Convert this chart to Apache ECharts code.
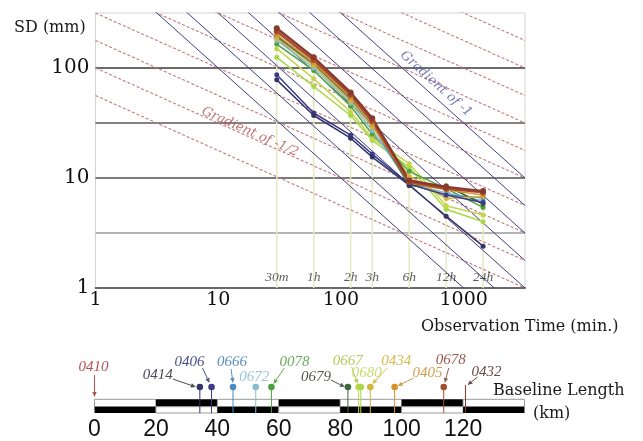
<!DOCTYPE html>
<html>
<head>
<meta charset="utf-8">
<script src="https://cdn.jsdelivr.net/npm/echarts@6.0.0/dist/echarts.min.js"></script>
<style>
html,body{margin:0;padding:0;background:#ffffff;}
#chart{width:643px;height:441px;}
</style>
</head>
<body>
<div id="chart"></div>
<script>
// ---------------- data ----------------
const times = [30, 60, 120, 180, 360, 720, 1440];
const timeLabels = ['30m', '1h', '2h', '3h', '6h', '12h', '24h'];
const xTickLabels = [1, 10, 100, 1000];
const yTickLabels = [1, 10, 100];
const refLevels = [3.162, 10, 31.62, 100];
const gradMinus1 = [1000, 1778, 3162, 5623, 10000, 17783, 31623];
const gradMinusHalf = [56.2, 100, 178, 316, 562, 1000, 1778, 3162, 5623, 10000];

const sd0414 = [78, 37, 23, 15.5, 8.6, 4.5, 2.4];
const sd0406 = [87, 39, 24.5, 16.5, 8.8, 7.0, 6.0];
const sd0666 = [190, 108, 52, 30, 8.8, 7.0, 6.6];
const sd0672 = [178, 100, 48, 27, 9.0, 7.3, 6.2];
const sd0078 = [165, 95, 45, 25, 11.5, 8.0, 5.4];
const sd0679 = [195, 110, 53, 32, 8.5, 8.5, 5.8];
const sd0667 = [150, 80, 40, 23, 13.5, 5.6, 4.6];
const sd0680 = [125, 68, 37, 22, 12.5, 5.2, 4.0];
const sd0434 = [185, 105, 50, 29, 10.5, 6.5, 6.8];
const sd0405 = [200, 112, 54, 31, 9.0, 7.8, 7.0];
const sd0678 = [215, 118, 57, 33, 9.2, 8.0, 7.4];
const sd0432 = [230, 125, 60, 35, 9.5, 8.3, 7.6];

const stations = ['0410','0414','0406','0666','0672','0078','0679','0667','0680','0434','0405','0678','0432'];
const baselineKm = [0, 34.3, 38.1, 45.1, 52.5, 57.6, 82.5, 86.0, 86.7, 89.8, 97.7, 113.7, 120.8];
const kmTicks = [0, 20, 40, 60, 80, 100, 120];
const kmSegments = [0, 20, 40, 60, 80, 100, 120];
const segLen = 20;

// ---------------- styles / layout ----------------
const stationColor = {
  '0410':'#b84a48','0414':'#33336a','0406':'#3c3c86','0666':'#4a8cc0','0672':'#86bccc',
  '0078':'#4ea040','0679':'#3a6a3a','0667':'#c4d44c','0680':'#a8d848','0434':'#d4b440',
  '0405':'#d8922c','0678':'#a84a30','0432':'#8a3a2c'
};
const labelColor = {
  '0410':'#b85050','0414':'#4a4a58','0406':'#4a5088','0666':'#5a8cc4','0672':'#9cc4d4',
  '0078':'#6aac58','0679':'#505c50','0667':'#b8c85c','0680':'#c4dc70','0434':'#d4bc50',
  '0405':'#d0a050','0678':'#9a5a50','0432':'#6a4a4a'
};
const seriesDefs = [
  ['0680', sd0680], ['0667', sd0667], ['0078', sd0078], ['0672', sd0672], ['0666', sd0666],
  ['0679', sd0679], ['0434', sd0434], ['0405', sd0405], ['0406', sd0406], ['0414', sd0414],
  ['0678', sd0678], ['0432', sd0432]
];
// label offsets relative to marker [dx, dy]; arrows [x1,y1,x2,y2] relative to marker
const labelOff = [[-1,-20],[-42,-12],[-22,-25],[-1,-25],[-1.5,-10],[23,-25],[-32,-10],[-11,-26],[6,-14],[26,-26],[33,-14],[7,-27],[21,-15]];
const arrowOff = [[0,-12,0,10],[-27,-8,-4,0],[-9,-19,-2,-4],[-2,-18,0,-4],null,[13,-19,2,-3],[-17,-7,-3,0],[-7,-20,-1,-3],null,[17,-19,2,-3],[19,-9,3,-1],[5,-19,1,-4],[12,-10,2,-2]];
const noMarker = {'0410':true, '0432':true};
const refStyle = [
  {color:'#b4b4b4', width:2}, {color:'#7a7a7a', width:2},
  {color:'#5a5a5a', width:1.3}, {color:'#3a3a3a', width:1.5}
];
const X_MAX = Math.pow(10, 3.5), Y_MAX = Math.pow(10, 2.5);
const MARK_V = 26, BAR_MID = 6.3, BAR_TOP = 13.7;

function isTick(v, list){ return list.some(t => Math.abs(Math.log10(v) - Math.log10(t)) < 1e-6); }

const series = [];
// horizontal reference lines
refLevels.forEach((v, i) => {
  series.push({type:'line', xAxisIndex:0, yAxisIndex:0, data:[[1, v],[X_MAX, v]], symbol:'none', silent:true,
    lineStyle:{color:refStyle[i].color, width:refStyle[i].width}, z:1});
});
// gradient -1/2 (red dashed)
gradMinusHalf.forEach(C => {
  series.push({type:'line', xAxisIndex:0, yAxisIndex:0, data:[[1, C],[X_MAX, C/Math.sqrt(X_MAX)]], symbol:'none', silent:true, clip:true,
    lineStyle:{color:'#c47878', width:1.1, type:[3,2]}, z:2});
});
// gradient -1 (blue)
gradMinus1.forEach(C => {
  series.push({type:'line', xAxisIndex:0, yAxisIndex:0, data:[[1, C],[X_MAX, C/X_MAX]], symbol:'none', silent:true, clip:true,
    lineStyle:{color:'#3e3e84', width:1}, z:2});
});
// vertical time lines
times.forEach((t, i) => {
  const mx = Math.max(...seriesDefs.map(d => d[1][i]));
  series.push({type:'line', xAxisIndex:0, yAxisIndex:0, data:[[t, 1],[t, mx]], symbol:'none', silent:true,
    lineStyle:{color:'#e2eac4', width:1.5}, z:1});
});
// data series
seriesDefs.forEach(([name, arr]) => {
  const thick = (name === '0432' || name === '0678');
  series.push({type:'line', name, xAxisIndex:0, yAxisIndex:0,
    data: times.map((t, i) => [t, arr[i]]),
    symbol:'circle', symbolSize: thick ? 6 : 5,
    itemStyle:{color: stationColor[name]},
    lineStyle:{color: stationColor[name], width: thick ? 2.4 : 1.5}, z:5});
});
// time labels
series.push({type:'scatter', xAxisIndex:0, yAxisIndex:0, data: times.map(t => [t, 1.24]), symbolSize:0, silent:true,
  label:{show:true, position:'inside', formatter: p => timeLabels[p.dataIndex],
    fontFamily:'"Liberation Serif", serif', fontStyle:'italic', fontSize:13.5, color:'#333'}, z:6});
// gradient labels
series.push({type:'scatter', xAxisIndex:0, yAxisIndex:0, data:[[18.2, 26.2]], symbolSize:0, silent:true,
  label:{show:true, position:'inside', rotate:-24, formatter:'Gradient of -1/2',
    fontFamily:'"DejaVu Serif", serif', fontStyle:'italic', fontSize:13, color:'#b04c4c'}, z:6});
series.push({type:'scatter', xAxisIndex:0, yAxisIndex:0, data:[[596, 71.6]], symbolSize:0, silent:true,
  label:{show:true, position:'inside', rotate:-42, formatter:'Gradient of -1',
    fontFamily:'"DejaVu Serif", serif', fontStyle:'italic', fontSize:13, color:'#5656a8'}, z:6});

// scale bar
series.push({type:'custom', xAxisIndex:1, yAxisIndex:1, data: kmSegments.map((k, i) => [k, i]), silent:true,
  renderItem: (params, api) => {
    const k = api.value(0), i = api.value(1);
    const p0 = api.coord([k, 0]), pm = api.coord([k + segLen, BAR_MID]), pt = api.coord([k + segLen, BAR_TOP]);
    const w = pm[0] - p0[0];
    const topBlack = (i % 2 === 1);
    return {type:'group', children:[
      {type:'rect', shape:{x:p0[0], y:pt[1], width:w, height:pm[1]-pt[1]},
        style: topBlack ? {fill:'#000'} : {fill:'#fff', stroke:'#999', lineWidth:1}},
      {type:'rect', shape:{x:p0[0], y:pm[1], width:w, height:p0[1]-pm[1]},
        style: topBlack ? {fill:'#fff', stroke:'#999', lineWidth:1} : {fill:'#000'}}
    ]};
  }, z:2});

function arrowEls(x1, y1, x2, y2, color){
  const ang = Math.atan2(y2 - y1, x2 - x1), L = 5, W = 2.2;
  const bx = x2 - L * Math.cos(ang), by = y2 - L * Math.sin(ang);
  const px = -Math.sin(ang) * W, py = Math.cos(ang) * W;
  return [
    {type:'line', shape:{x1, y1, x2:bx, y2:by}, style:{stroke:color, lineWidth:1}},
    {type:'polygon', shape:{points:[[x2, y2],[bx + px, by + py],[bx - px, by - py]]}, style:{fill:color}}
  ];
}
// stations
series.push({type:'custom', xAxisIndex:1, yAxisIndex:1, data: baselineKm.map(k => [k, 0]), silent:true,
  renderItem: (params, api) => {
    const i = params.dataIndex, name = stations[i];
    const km = api.value(0);
    const pm = api.coord([km, MARK_V]), pb = api.coord([km, 0]);
    const c = stationColor[name], lc = labelColor[name];
    const kids = [];
    if (name !== '0410') {
      kids.push({type:'line', shape:{x1:pm[0], y1: name === '0432' ? pm[1] - 2 : pm[1], x2:pb[0], y2:pb[1]}, style:{stroke:c, lineWidth:1}});
    }
    if (!noMarker[name]) {
      kids.push({type:'circle', shape:{cx:pm[0], cy:pm[1], r:3.3}, style:{fill:c}});
    }
    const a = arrowOff[i];
    if (a) kids.push(...arrowEls(pm[0] + a[0], pm[1] + a[1], pm[0] + a[2], pm[1] + a[3], lc));
    const lo = labelOff[i];
    kids.push({type:'text', style:{text:name, x:pm[0] + lo[0], y:pm[1] + lo[1], fill:lc,
      font:'italic 15px "Liberation Serif"', align:'center', verticalAlign:'middle'}});
    return {type:'group', children:kids};
  }, z:4});

const option = {
  animation:false,
  backgroundColor:'#ffffff',
  grid:[
    {left:95.5, right:118, top:13, bottom:153, show:true, borderColor:'#d4d4d4', borderWidth:1, backgroundColor:'transparent', containLabel:false, outerBoundsMode:'none'},
    {left:94.5, right:118.5, top:373, bottom:28, show:false, containLabel:false, outerBoundsMode:'none'}
  ],
  xAxis:[
    {type:'log', logBase:10, gridIndex:0, min:1, max:X_MAX,
      axisLine:{show:true, lineStyle:{color:'#6a6a6a', width:2}},
      axisTick:{show:false}, splitLine:{show:false}, minorTick:{show:false},
      axisLabel:{show:true, margin:3, showMaxLabel:false, formatter: v => isTick(v, xTickLabels) ? String(Math.round(v)) : '',
        fontFamily:'"DejaVu Serif", serif', fontSize:19, color:'#111'}},
    {type:'value', gridIndex:1, min:0, max:140, interval:20,
      axisLine:{show:false}, axisTick:{show:false}, splitLine:{show:false},
      axisLabel:{show:true, margin:5, showMaxLabel:false, formatter: v => kmTicks.includes(v) ? String(v) : '',
        fontFamily:'"Liberation Sans Narrow", "Liberation Sans", sans-serif', fontSize:23, color:'#111'}}
  ],
  yAxis:[
    {type:'log', logBase:10, gridIndex:0, min:1, max:Y_MAX,
      axisLine:{show:false}, axisTick:{show:false}, splitLine:{show:false},
      axisLabel:{show:true, margin:6, showMaxLabel:false, formatter: v => isTick(v, yTickLabels) ? String(Math.round(v)) : '',
        fontFamily:'"DejaVu Serif", serif', fontSize:20, color:'#111'}},
    {type:'value', gridIndex:1, min:0, max:40, show:false}
  ],
  graphic:[
    {type:'text', left:14, top:20, style:{text:'SD (mm)', font:'16px "DejaVu Serif"', fill:'#1a1a1a'}},
    {type:'text', left:421, top:319, style:{text:'Observation Time (min.)', font:'16px "DejaVu Serif"', fill:'#1a1a1a'}},
    {type:'text', left:493, top:383, style:{text:'Baseline Length', font:'16px "DejaVu Serif"', fill:'#1a1a1a'}},
    {type:'text', left:533, top:406, style:{text:'(km)', font:'16px "DejaVu Serif"', fill:'#1a1a1a'}}
  ],
  series
};
const chart = echarts.init(document.getElementById('chart'), null, {renderer:'canvas'});
chart.setOption(option);
</script>
</body>
</html>
